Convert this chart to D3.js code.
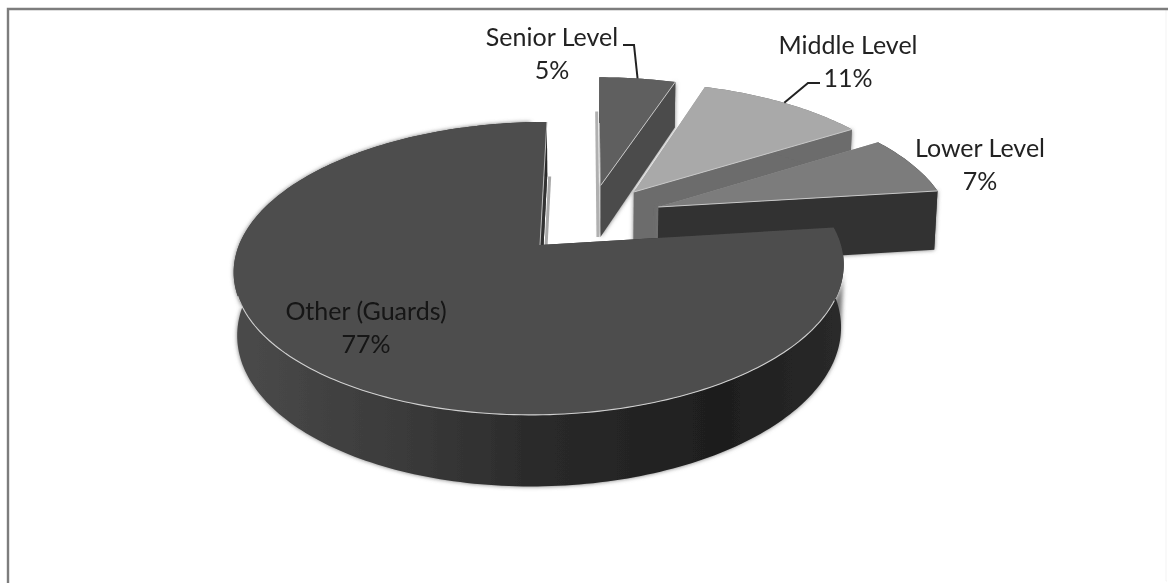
<!DOCTYPE html>
<html><head><meta charset="utf-8">
<script src="https://cdn.jsdelivr.net/npm/d3@7"></script>
<style>
html,body{margin:0;padding:0;background:#fff}
svg{display:block}
text{font-family:Lato,"Open Sans",sans-serif}
</style></head><body>
<svg id="c" width="1168" height="583"></svg>
<script>
// Data
const categories = ["Senior Level","Middle Level","Lower Level","Other (Guards)"];
const percents = [5,11,7,77];
const percentLabels = ["5%","11%","7%","77%"];

// Per-slice styling
const topColors = ["#5e5e5e","#a9a9a9","#7c7c7c","#4d4d4d"];
const faceColors = ["#4c4c4c","#6c6c6c","#323232","#3a3a3a"];
const explodeU = [0.204,0.321,0.403,0];
const explodeV = [0.447,0.395,0.278,0];
const depthFactor = [0.88,1,1,1];
const labelX = [552,848,980,366];
const labelY = [38,46,149,312];

// Perspective projection of the pie's ground plane
const P = {x0:540,y0:245,b:301,a:142.7,k:0.16,vx:590,Xz:5.8,Yz:65,m:0.01};
function project(u,v,z){
  const w = 1+P.k*v+P.m*z;
  const X = P.x0+P.b*u+P.vx*P.k*v+P.Xz*z;
  const Y = P.y0+(P.y0*P.k-P.a)*v+P.Yz*z;
  return [X/w,Y/w];
}

const svg = d3.select("#c");
const defs = svg.append("defs");
const f = defs.append("filter").attr("id","soft").attr("x","-10%").attr("y","-10%").attr("width","120%").attr("height","120%");
f.append("feGaussianBlur").attr("stdDeviation",0.6);
const sh = defs.append("filter").attr("id","shadow").attr("x","-10%").attr("y","-10%").attr("width","120%").attr("height","120%");
sh.append("feGaussianBlur").attr("stdDeviation",2.2);
const grad = defs.append("linearGradient").attr("id","wall").attr("gradientUnits","userSpaceOnUse")
  .attr("x1",235).attr("x2",843).attr("y1",0).attr("y2",0);
[[0,"#4a4a4a"],[0.28,"#3a3a3a"],[0.5,"#2a2a2a"],[0.8,"#1e1e1e"],[1,"#2a2a2a"]].forEach(s=>
  grad.append("stop").attr("offset",s[0]).attr("stop-color",s[1]));

const pie = d3.pie().sort(null).value(d=>d);
const arcs = pie(percents);
const line = d3.line();
const poly = pts => line(pts)+"Z";

const root = svg.append("g").attr("filter","url(#soft)");

// Frame: strong on the top and left, barely visible on the right and bottom
root.append("path").attr("d",line([[1167,581],[1166,581],[1166,9]])).attr("fill","none").attr("stroke","#f3f3f3").attr("stroke-width",1);
root.append("path").attr("d",line([[8,583],[8,9],[1168,9]])).attr("fill","none").attr("stroke","#7d7d7d").attr("stroke-width",2.4);

function pt(i,ang,r,z){
  return project(explodeU[i]+r*Math.sin(ang),explodeV[i]+r*Math.cos(ang),z*depthFactor[i]);
}
function arcPts(i,a0,a1,z){
  const n = Math.max(2,Math.ceil(Math.abs(a1-a0)/0.02));
  return d3.range(n+1).map(j=>pt(i,a0+(a1-a0)*j/n,1,z));
}

arcs.forEach((d,i)=>{
  const a0=d.startAngle,a1=d.endAngle;
  const g = root.append("g");
  const wallPts = arcPts(i,a0,a1,0).concat(arcPts(i,a1,a0,1));
  const apex0=pt(i,0,0,0),apex1=pt(i,0,0,1);
  const startFace=[apex0,pt(i,a0,1,0),pt(i,a0,1,1),apex1];
  const endFace=[apex0,pt(i,a1,1,0),pt(i,a1,1,1),apex1];
  // soft shadow behind the extruded body
  const shadowPts = i===3 ? arcPts(i,Math.PI*0.55,Math.PI*1.98,1).concat(arcPts(i,Math.PI*1.98,Math.PI*0.55,0)) : endFace;
  g.append("path").attr("d",poly(shadowPts)).attr("fill","#777").attr("filter","url(#shadow)");
  // thin grey strips beside the cut edges that face away
  if(i===0) g.append("path").attr("d",line([pt(i,a0,1,0.75),apex1])).attr("transform","translate(-2.5,0)")
    .attr("fill","none").attr("stroke","#b0b0b0").attr("stroke-width",3);
  if(i===3) g.append("path").attr("d",line([pt(i,a1,1,1),apex1])).attr("transform","translate(2.5,0)")
    .attr("fill","none").attr("stroke","#a8a8a8").attr("stroke-width",3);
  g.append("path").attr("d",poly(startFace)).attr("fill",i===3?"#333":"#9a9a9a");
  if(i===3) g.append("path").attr("d",poly([apex0,pt(i,a1,1,0),pt(i,a1,1,1),apex1])).attr("fill","#333");
  g.append("path").attr("d",poly(endFace)).attr("fill",i===3?"#333":faceColors[i]);
  g.append("path").attr("d",poly(wallPts)).attr("fill",i===3?"url(#wall)":faceColors[i]);
  const topPts=[apex0].concat(arcPts(i,a0,a1,0));
  g.append("path").attr("d",poly(topPts)).attr("fill",topColors[i]);
  // light edges of the top surface
  if(i<3) g.append("path").attr("d",line([apex0,pt(i,a1,1,0)]))
    .attr("fill","none").attr("stroke","#c8c8c8").attr("stroke-width",1);
  if(i===3){
    g.append("path").attr("d",line(arcPts(i,Math.PI*0.62,Math.PI*1.39,0)))
      .attr("fill","none").attr("stroke","#cfcfcf").attr("stroke-width",1.1);
    g.append("path").attr("d",line([pt(i,a1,1,0),apex0]))
      .attr("fill","none").attr("stroke","#bdbdbd").attr("stroke-width",1);
  }
});

// Labels
const labels = root.append("g").attr("text-anchor","middle").attr("font-size",25).attr("fill","#222");
categories.forEach((c,i)=>{
  labels.append("text").attr("x",labelX[i]).attr("y",labelY[i]+8).text(c).attr("fill",i===3?"#141414":"#222");
  labels.append("text").attr("x",labelX[i]).attr("y",labelY[i]+41).text(percentLabels[i]).attr("fill",i===3?"#141414":"#222");
});

// Leader lines: from beside the label to the slice's outer arc
const leaderEnd = (i,t)=>pt(i,arcs[i].startAngle+t*(arcs[i].endAngle-arcs[i].startAngle),1,0);
const e0=leaderEnd(0,0.5), e1=leaderEnd(1,0.5);
root.append("path").attr("d",line([[labelX[0]+71,labelY[0]+7],[labelX[0]+82,labelY[0]+7],e0]))
  .attr("fill","none").attr("stroke","#222").attr("stroke-width",2);
root.append("path").attr("d",line([[labelX[1]-28,labelY[1]+37],[labelX[1]-40,labelY[1]+37],e1]))
  .attr("fill","none").attr("stroke","#222").attr("stroke-width",2);
</script></body></html>
